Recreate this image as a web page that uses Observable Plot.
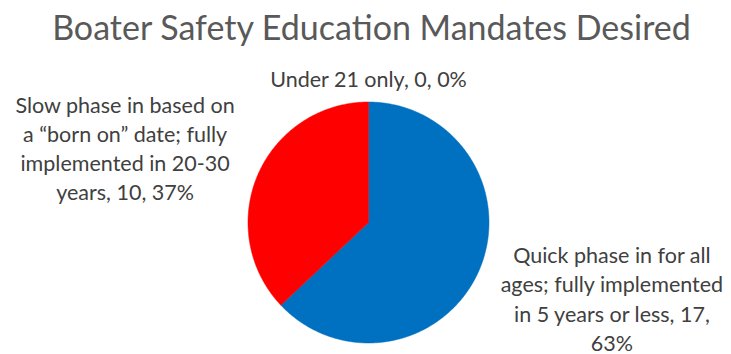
<!DOCTYPE html>
<html><head><meta charset="utf-8">
<script src="https://cdn.jsdelivr.net/npm/d3@7"></script>
<script src="https://cdn.jsdelivr.net/npm/@observablehq/plot@0.6"></script>
<style>
body{margin:0;background:#fff;}
#title{box-sizing:border-box;width:731px;height:54px;padding-left:12px;font-family:Lato,sans-serif;font-size:34px;color:#595959;text-align:center;line-height:53px;white-space:nowrap;}
</style></head><body>
<div id="title">Boater Safety Education Mandates Desired</div>
<div id="chart"></div>
<script>
const categories = [
  "Quick phase in for all ages; fully implemented in 5 years or less",
  "Slow phase in based on a “born on” date; fully implemented in 20-30 years",
  "Under 21 only"
];
const values = [17, 10, 0];
const colors = ["#0070C0", "#FF0000", "#A5A5A5"];

const W = 731, H = 300, R = 120.5, cx = 368, cy = 168;
const total = d3.sum(values);
const arcs = d3.pie().sort(null).value(d => d)(values);

function wrap(text, maxChars) {
  const words = text.split(" ");
  const lines = [];
  let cur = "";
  for (const w of words) {
    const t = cur ? cur + " " + w : w;
    if (t.length > maxChars && cur) { lines.push(cur); cur = w; } else cur = t;
  }
  if (cur) lines.push(cur);
  return lines.join("\n");
}

const pts = [];
arcs.forEach((p, i) => {
  if (p.endAngle - p.startAngle <= 0) return;
  pts.push({i, x: 0, y: 0});
  const n = Math.ceil((p.endAngle - p.startAngle) * 180 / Math.PI * 2);
  for (let k = 0; k <= n; k++) {
    const a = p.startAngle + (p.endAngle - p.startAngle) * k / n;
    pts.push({i, x: Math.sin(a), y: Math.cos(a)});
  }
  pts.push({i, x: 0, y: 0});
});

const labels = arcs.map((p, i) => {
  const m = (p.startAngle + p.endAngle) / 2;
  const pct = Math.round(values[i] / total * 100);
  return {
    x: Math.sin(m) * 2.2,
    y: Math.cos(m) * (1.2 + 0.41 * Math.abs(Math.sin(m))),
    text: wrap(`${categories[i]}, ${values[i]}, ${pct}%`, 23)
  };
});

const chart = Plot.plot({
  width: W, height: H,
  margin: 0,
  style: {background: "#fff", overflow: "visible"},
  x: {domain: [-cx / R, (W - cx) / R], range: [0, W], axis: null},
  y: {domain: [-(H - cy) / R, cy / R], range: [H, 0], axis: null},
  color: {type: "identity"},
  marks: [
    Plot.line(pts, {x: "x", y: "y", z: "i", fill: d => colors[d.i], stroke: d => colors[d.i], strokeWidth: 0.5, curve: "linear"}),
    Plot.text(labels, {x: "x", y: "y", text: "text", fontFamily: "Lato, sans-serif", fontSize: 21.5, fill: "#404040", lineHeight: 1.36, textAnchor: "middle", lineAnchor: "middle"})
  ]
});
document.getElementById("chart").appendChild(chart);
</script>
</body></html>
